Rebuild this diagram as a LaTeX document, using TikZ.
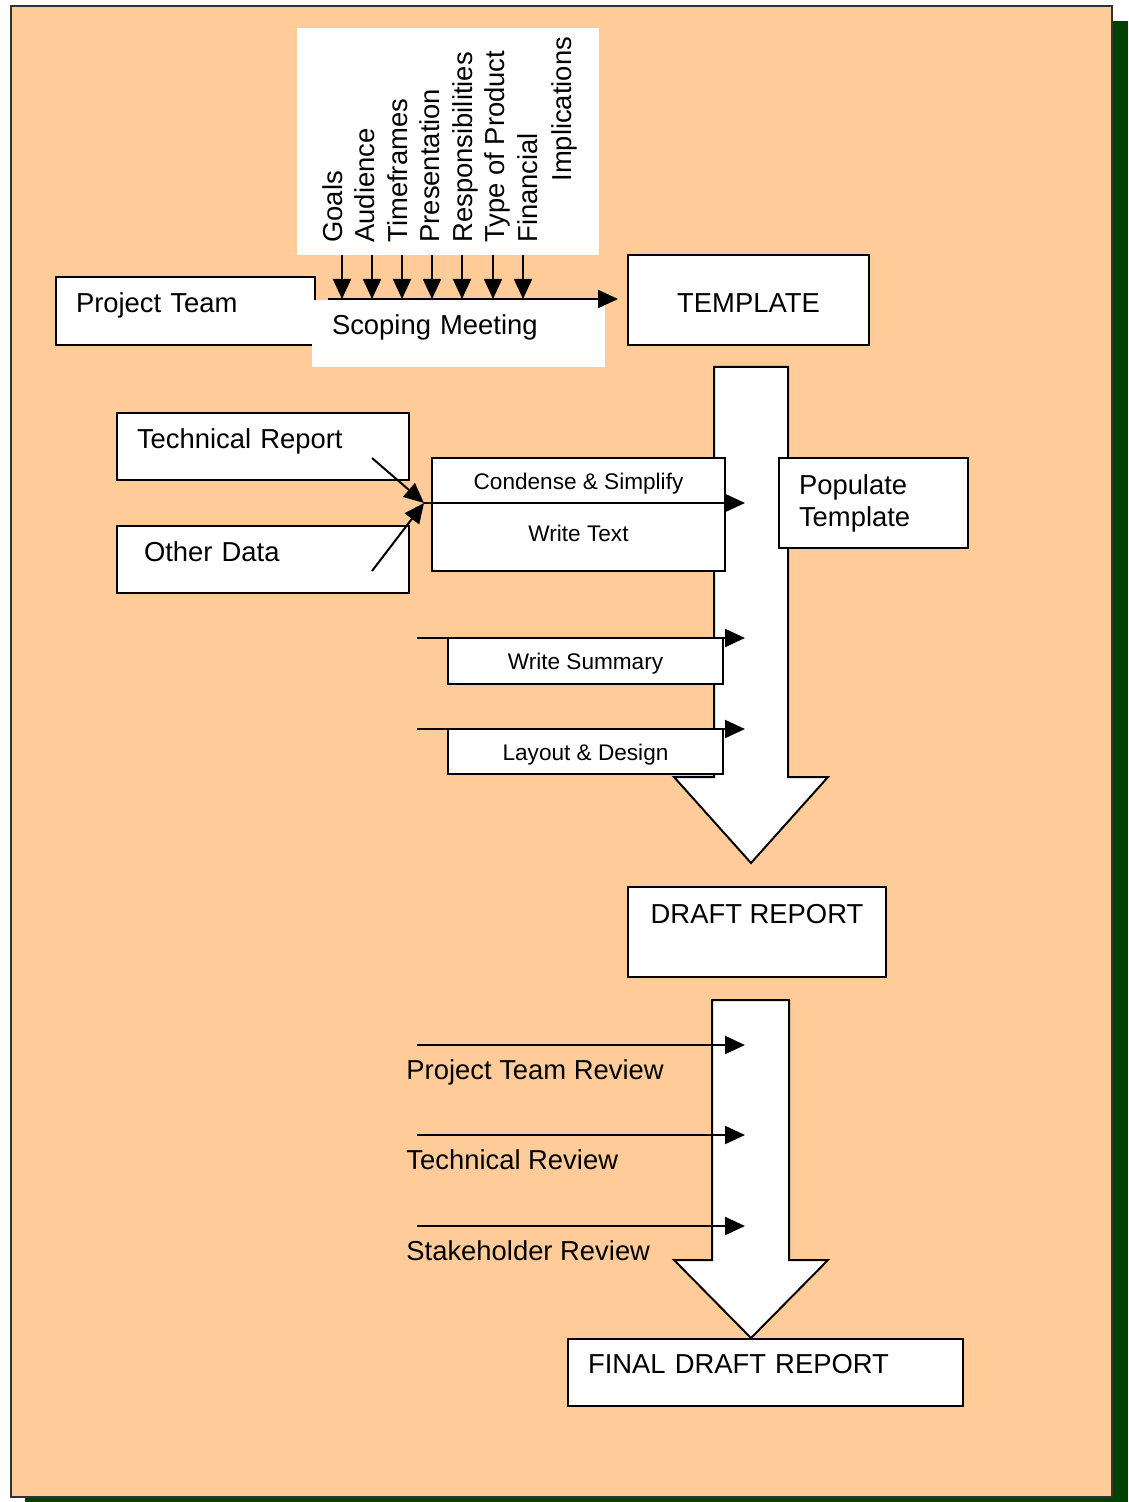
\documentclass[tikz,border=0pt]{standalone}
\usepackage{fontspec}
\setmainfont{Liberation Sans}
\usetikzlibrary{arrows.meta,calc}
\definecolor{peach}{HTML}{FFCC99}
\definecolor{shadowgreen}{HTML}{004000}
\tikzset{line join=miter,
    box/.style={draw,fill=white,line width=1pt,anchor=north west,outer sep=0pt,inner ysep=0pt,font=\fontsize{13.7pt}{16pt}\selectfont},
    plainbox/.style={box,draw=none},
    smallbox/.style={box,inner xsep=0pt,text height=9pt,font=\fontsize{11.3pt}{13.5pt}\selectfont},
    topic/.style={rotate=90,anchor=base west,inner sep=0pt,font=\fontsize{13.7pt}{16pt}\selectfont},
    arr/.style={line width=1pt,-{Triangle[length=10pt,width=9pt]}},
    bigarrow/.style={draw,fill=white,line width=1pt},
}

\begin{document}
\begin{tikzpicture}[x=0.5pt,y=-0.5pt]
    \useasboundingbox (0,0) rectangle (1128,1502);
    \fill[shadowgreen] (25,21) rectangle (1128,1502);
    \draw[fill=peach,line width=1pt,draw=black!80] (11,6) rectangle (1112,1497);
    % scoping
    \node[name=team,box,inner xsep=10pt,text width=109.5pt,minimum height=34pt,text height=10pt,text depth=8pt,align=left] at (56,277) {Project Team};
    \node[name=topics,plainbox,minimum width=151pt,minimum height=113.5pt] at (297,28) {};
    \foreach \t [count=\i] in {Goals,Audience,Timeframes,Presentation,Responsibilities,Type of Product,Financial}{%
    \node[name=topic-\i,topic] at ({342+32.5*(\i-1)},243) {\t};
    }
    \node[name=topic-8,topic] at (571,182) {Implications};
    \node[name=scoping,plainbox,inner xsep=10pt,text width=126.5pt,minimum height=33.5pt,text height=10pt,text depth=8.5pt,align=left] at (312,300) {Scoping Meeting};
    \node[name=template,box,minimum width=120.5pt,minimum height=45pt,text height=20pt,text depth=7pt] at (628,255) {TEMPLATE};
    \foreach \x [count=\i] in {342,372,402,432,462,493,523}{%
    \coordinate (in-\i) at (\x,299);
    \draw[arr] (topics.south -| in-\i) -- (in-\i);
    }
    \coordinate (meet) at (328,299);
    \draw[arr,shorten >=5pt] (meet) -- (meet -| template.west);
    % writing
    \draw[bigarrow] (714,367) -- (714,777) -- (674,777) -- (751,863) -- (828,777) -- (788,777) -- (788,367) -- cycle;
    \node[name=techrep,box,inner xsep=10pt,text width=126pt,minimum height=33.5pt,text height=10pt,text depth=8.5pt,align=left] at (117,413) {Technical Report};
    \node[name=otherdata,box,inner xsep=13.5pt,text width=119pt,minimum height=33.5pt,text height=10pt,text depth=8.5pt,align=left] at (117,526) {Other Data};
    \node[name=condense,smallbox,minimum width=146.5pt,minimum height=22.5pt,text depth=0.5pt] at (432,458) {Condense \& Simplify};
    \node[name=writetext,smallbox,minimum width=146.5pt,minimum height=34pt,text depth=5pt] at (432,503) {Write Text};
    \node[name=populate,box,inner xsep=10pt,text width=74.5pt,minimum height=45pt,align=left] at (779,458) {Populate\\Template};
    \node[name=summary,smallbox,minimum width=137.5pt,minimum height=23pt,text depth=1pt] at (448,638) {Write Summary};
    \node[name=layout,smallbox,minimum width=137.5pt,minimum height=22.5pt,text depth=0.5pt] at (448,729) {Layout \& Design};
    \coordinate (tr-out) at (372,458);
    \coordinate (od-out) at (372,571);
    \coordinate (merge) at (424,503);
    \coordinate (fill) at (745,503);
    \coordinate (sum-in) at (417,638);
    \coordinate (lay-in) at (417,729);
    \draw[arr] (tr-out) -- (merge);
    \draw[arr] (od-out) -- (merge);
    \draw[arr] (merge) -- (fill);
    \draw[arr] (sum-in) -- (sum-in -| fill);
    \draw[arr] (lay-in) -- (lay-in -| fill);
    % review
    \node[name=draft,box,minimum width=129pt,minimum height=45pt,text height=10pt,text depth=19pt] at (628,887) {DRAFT REPORT};
    \draw[bigarrow] (712,1000) -- (712,1260) -- (674,1260) -- (751,1338) -- (828,1260) -- (789,1260) -- (789,1000) -- cycle;
    \foreach \y/\t [count=\i] in {1045/Project Team Review,1135/Technical Review,1226/Stakeholder Review}{%
    \coordinate (rev-in-\i) at (417,\y);
    \draw[arr] (rev-in-\i) -- (rev-in-\i -| fill);
    \node[name=rev-\i,anchor=base west,inner sep=0pt,font=\fontsize{13.7pt}{16pt}\selectfont] at ($(rev-in-\i)+(-11,34.5)$) {\t};
    }
    \node[name=final,box,inner xsep=10pt,text width=177.5pt,minimum height=33.5pt,text height=10pt,text depth=9.5pt,align=left] at (568,1339) {FINAL DRAFT REPORT};
\end{tikzpicture}
\end{document}
